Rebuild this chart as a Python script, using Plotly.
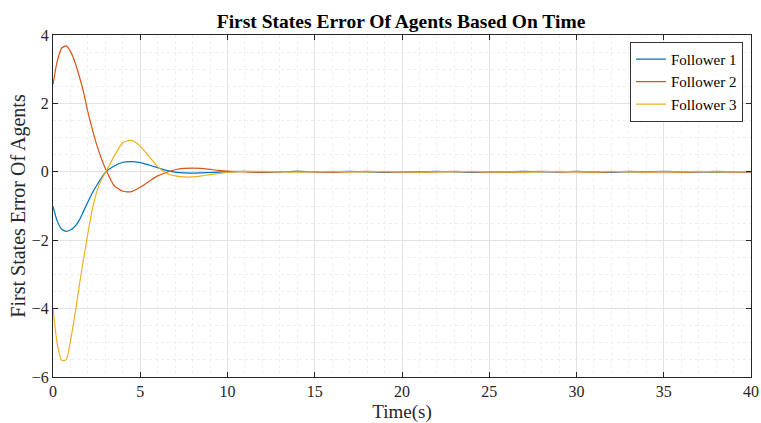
import plotly.graph_objects as go

t = [0, 0.25, 0.5, 0.75, 1.0, 1.25, 1.5, 1.75, 2.0, 2.25, 2.5, 2.75, 3.0, 3.5, 4.0, 4.5, 5.0,
     5.5, 6.0, 6.5, 7.0, 7.5, 8.0, 8.5, 9.0, 9.5, 10, 11, 12, 13, 14, 15, 16, 17, 18, 19, 20,
     21, 22, 23, 24, 25, 26, 27, 28, 29, 30, 31, 32, 33, 34, 35, 36, 37, 38, 39, 40]

follower1 = [-1.01, -1.45, -1.68, -1.74, -1.70, -1.60, -1.42, -1.15, -0.88, -0.62, -0.40, -0.20, -0.02, 0.17, 0.28, 0.30, 0.27,
             0.20, 0.12, 0.04, -0.01, -0.03, -0.04, -0.03, -0.02, -0.01, 0.0, 0.01, -0.01, 0.0, 0.01, 0.0, 0.0, 0.01, 0.0,
             -0.01, 0.0, 0.0, 0.01, 0.0, -0.01, 0.0, 0.0, 0.01, 0.0, 0.0, 0.01, 0.0, -0.01, 0.0, 0.0, 0.01, 0.0, 0.0, -0.01, 0.0, 0.0]

follower2 = [2.55, 3.25, 3.62, 3.68, 3.52, 3.22, 2.80, 2.33, 1.75, 1.25, 0.80, 0.42, 0.10, -0.40, -0.57, -0.58, -0.45,
             -0.28, -0.12, -0.02, 0.06, 0.10, 0.11, 0.10, 0.07, 0.04, 0.02, 0.0, -0.01, 0.0, 0.01, 0.0, -0.01, 0.0, 0.01,
             0.0, 0.0, -0.01, 0.0, 0.01, 0.0, 0.0, -0.01, 0.0, 0.01, 0.0, 0.0, -0.01, 0.0, 0.01, 0.0, 0.0, -0.01, 0.0, 0.01, 0.0, 0.0]

follower3 = [-4.00, -5.05, -5.52, -5.50, -4.95, -4.20, -3.35, -2.55, -1.80, -1.10, -0.60, -0.25, -0.03, 0.45, 0.85, 0.92, 0.75,
             0.45, 0.15, -0.04, -0.12, -0.15, -0.15, -0.12, -0.08, -0.05, -0.02, 0.01, 0.01, 0.0, -0.01, 0.0, 0.01, 0.0, 0.0,
             0.01, 0.0, -0.01, 0.0, 0.0, 0.01, 0.0, 0.0, -0.01, 0.0, 0.01, 0.0, 0.0, 0.01, 0.0, -0.01, 0.0, 0.0, 0.01, 0.0, 0.0, 0.01]

names = ["Follower 1", "Follower 2", "Follower 3"]
colors = ["#0072BD", "#D95319", "#EDB120"]

fig = go.Figure()
for name, ys, c in zip(names, [follower1, follower2, follower3], colors):
    fig.add_trace(go.Scatter(x=t, y=ys, mode="lines", name=name,
                             line=dict(color=c, width=1.2, shape="spline", smoothing=0.6)))

font = "Liberation Serif"
axis_common = dict(
    showline=True, linecolor="#262626", linewidth=1, mirror="ticks",
    ticks="inside", ticklen=5, tickcolor="#262626",
    showgrid=True, gridcolor="#e3e3e3", gridwidth=1,
    zeroline=False, automargin=False,
    tickfont=dict(family=font, size=16, color="#262626"),
)

fig.update_layout(
    width=761, height=423,
    margin=dict(l=53, r=10, t=35, b=46),
    paper_bgcolor="white", plot_bgcolor="white",
    font=dict(family=font),
    title=dict(text="<b>First States Error Of Agents Based On Time</b>",
               x=0.527, xanchor="center", y=0.95, yanchor="middle",
               font=dict(family=font, size=19.5, color="black")),
    xaxis=dict(range=[0, 40], dtick=5, tick0=0,
               title=dict(text="Time(s)", font=dict(family=font, size=19, color="#262626"), standoff=11),
               minor=dict(dtick=1, showgrid=True, gridcolor="#efefef", griddash="dot", ticks=""),
               **axis_common),
    yaxis=dict(range=[-6, 4], dtick=2, tick0=0,
               title=dict(text="First States Error Of Agents", font=dict(family=font, size=20, color="#262626"), standoff=0),
               minor=dict(dtick=0.5, showgrid=True, gridcolor="#efefef", griddash="dot", ticks=""),
               **axis_common),
    legend=dict(x=0.9885, xanchor="right", y=0.98, yanchor="top",
                bgcolor="white", bordercolor="#333333", borderwidth=1,
                font=dict(family=font, size=15, color="black"),
                tracegroupgap=0, itemwidth=30),
    showlegend=True,
)

fig.write_html("out.html", config={"displayModeBar": False},
               post_script="document.body.style.margin='0';document.body.style.padding='0';")
